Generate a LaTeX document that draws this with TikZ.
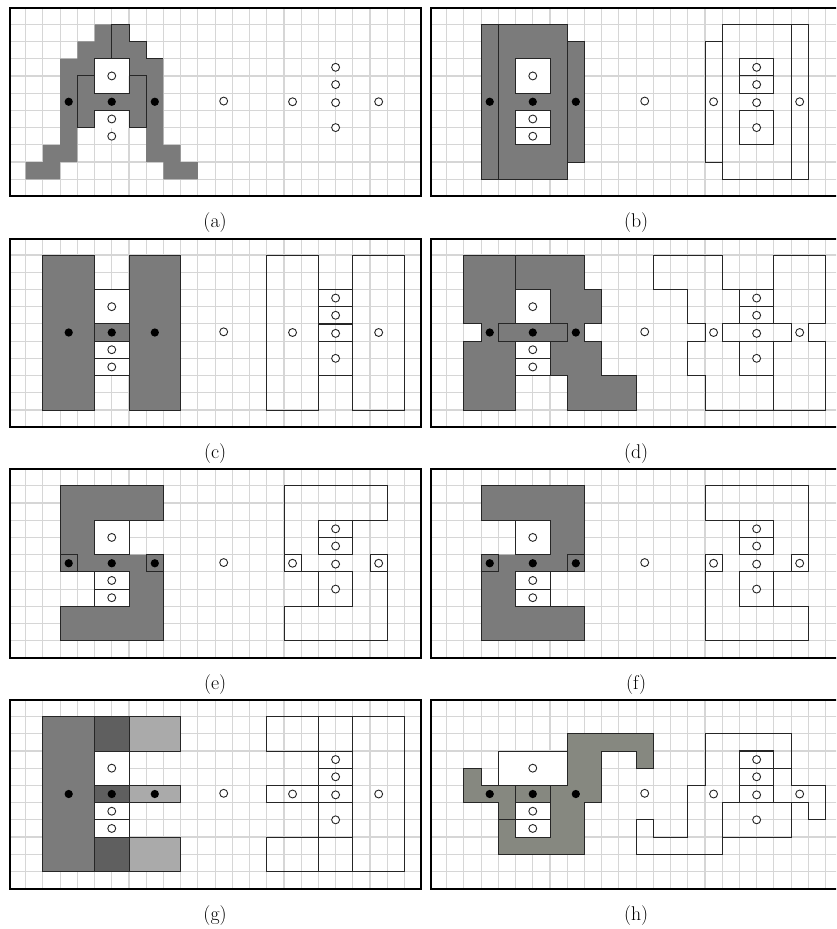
\documentclass[tikz,border=0pt]{standalone}
\usepackage{tikz}

\definecolor{cellgray}{HTML}{7B7B7B}
\definecolor{cellolive}{HTML}{868880}
\definecolor{celldark}{HTML}{5F5F5F}
\definecolor{celllight}{HTML}{AAAAAA}

\tikzset{
	gridline/.style={line width=0.95pt, gray!32},
	frameline/.style={line width=1.6pt, black},
	edgeline/.style={line width=0.75pt, black!85},
	graycell/.style={edgeline, fill=cellgray},
	whitecell/.style={edgeline, fill=white},
	captionlabel/.style={font=\fontsize{16.4}{18}\selectfont, inner sep=0pt},
}

% grid of one panel, drawn under the shapes
\newcommand{\panelgrid}{
	\foreach \i in {0,...,22} {
		\draw[gridline] (\i,-0.95) -- (\i,9.99);
	}
	\foreach \j in {0,...,9} {
		\draw[gridline] (-0.91,\j) -- (22.95,\j);
	}
}
% points and frame, drawn over the shapes
\newcommand{\panelpoints}{
	\foreach \x in {2.5,5,7.5} {
		\fill (\x,4.5) circle (0.24);
	}
	\foreach \x/\y in {5/3,5/5.5,5/6.5,11.5/4.46,15.5/4.5,18/2.5,18/3.5,18/4.55,18/6,20.5/4.5} {
		\draw[edgeline, fill=white] (\x,\y) circle (0.23);
	}
	\draw[frameline] (-0.91,-0.95) rectangle (22.95,9.99);
}

\begin{document}
\begin{tikzpicture}[x=0.5cm, y=-0.5cm]
	\clip (-1.49,-1.41) rectangle (47.06,52.54);

	% (a)
	\begin{scope}
		\panelgrid
		\fill[cellgray] (4,0) -- (6,0) -- (6,1) -- (7,1) -- (7,2) -- (8,2) -- (8,7) -- (9,7) -- (9,8) -- (10,8) -- (10,9) -- (8,9) -- (8,8) -- (7,8) -- (7,6) -- (3,6) -- (3,8) -- (2,8) -- (2,9) -- (0,9) -- (0,8) -- (1,8) -- (1,7) -- (2,7) -- (2,2) -- (3,2) -- (3,1) -- (4,1) -- cycle;
		\fill[white] (4,5) rectangle (6,6);
		\draw[whitecell] (4,2) rectangle (6,4);
		\draw[edgeline] (5,2) -- (5,0) -- (6,0) -- (6,1) -- (7,1) -- (7,2) -- (8,2);
		\draw[graycell] (3,3) -- (4,3) -- (4,4) -- (6,4) -- (6,3) -- (7,3) -- (7,6) -- (6,6) -- (6,5) -- (4,5) -- (4,6) -- (3,6) -- cycle;
		\panelpoints
		\node[captionlabel] (capa) at (11,11.53) {(a)};
	\end{scope}

	% (b)
	\begin{scope}[shift={(24.45,0)}]
		\panelgrid
		\draw[graycell] (2,0) rectangle (3,9);
		\draw[graycell] (3,0) rectangle (7,9);
		\draw[graycell] (7,1) rectangle (8,8);
		\draw[whitecell] (4,2) rectangle (6,4);
		\draw[whitecell] (4,5) rectangle (6,6);
		\draw[whitecell] (4,6) rectangle (6,7);
		\draw[edgeline] (15,1) rectangle (16,8);
		\draw[edgeline] (16,0) rectangle (20,9);
		\draw[edgeline] (20,0) rectangle (21,9);
		\draw[edgeline] (17,2) rectangle (19,3);
		\draw[edgeline] (17,3) rectangle (19,4);
		\draw[edgeline] (17,5) rectangle (19,7);
		\panelpoints
		\node[captionlabel] (capb) at (11,11.53) {(b)};
	\end{scope}

	% (c)
	\begin{scope}[shift={(0,13.4)}]
		\panelgrid
		\draw[graycell] (1,0) rectangle (4,9);
		\draw[graycell] (6,0) rectangle (9,9);
		\draw[whitecell] (4,2) rectangle (6,4);
		\draw[whitecell] (4,5) rectangle (6,6);
		\draw[whitecell] (4,6) rectangle (6,7);
		\draw[graycell] (4,4) rectangle (6,5);
		\draw[edgeline] (14,0) rectangle (17,9);
		\draw[edgeline] (19,0) rectangle (22,9);
		\draw[edgeline] (17,2) rectangle (19,3);
		\draw[edgeline] (17,3) rectangle (19,4);
		\draw[edgeline] (17,5) rectangle (19,7);
		\draw[edgeline, line width=1pt] (17,4) rectangle (19,5);
		\panelpoints
		\node[captionlabel] (capc) at (11,11.53) {(c)};
	\end{scope}

	% (d)
	\begin{scope}[shift={(24.45,13.4)}]
		\panelgrid
		\draw[graycell] (1,0) -- (8,0) -- (8,2) -- (9,2) -- (9,4) -- (8,4) -- (8,5) -- (9,5) -- (9,7) -- (11,7) -- (11,9) -- (7,9) -- (7,7) -- (4,7) -- (4,9) -- (1,9) -- (1,5) -- (2,5) -- (2,4) -- (1,4) -- cycle;
		\draw[edgeline] (4,0) -- (4,2);
		\draw[whitecell] (4,2) rectangle (6,4);
		\draw[whitecell] (4,5) rectangle (6,6);
		\draw[whitecell] (4,6) rectangle (6,7);
		\draw[graycell] (3,4) rectangle (7,5);
		\draw[edgeline] (12,0) -- (16,0) -- (16,2) -- (17,2) -- (19,2) -- (19,0) -- (22,0) -- (22,4) -- (21,4) -- (21,5) -- (22,5) -- (22,9) -- (15,9) -- (15,7) -- (14,7) -- (14,5) -- (15,5) -- (15,4) -- (14,4) -- (14,2) -- (12,2) -- cycle;
		\draw[edgeline] (19,2) -- (19,4);
		\draw[edgeline] (19,5) -- (19,9);
		\draw[edgeline] (17,2) rectangle (19,3);
		\draw[edgeline] (17,3) rectangle (19,4);
		\draw[edgeline] (17,5) rectangle (19,7);
		\draw[edgeline] (16,4) rectangle (20,5);
		\panelpoints
		\node[captionlabel] (capd) at (11,11.53) {(d)};
	\end{scope}

	% (e)
	\begin{scope}[shift={(0,26.8)}]
		\panelgrid
		\draw[graycell] (7,4) -- (8,4) -- (8,9) -- (2,9) -- (2,7) -- (4,7) -- (4,5) -- (2,5) -- (2,0) -- (8,0) -- (8,2) -- (6,2) -- (6,4);
		\draw[whitecell] (4,2) rectangle (6,4);
		\draw[whitecell] (4,5) rectangle (6,6);
		\draw[whitecell] (4,6) rectangle (6,7);
		\draw[graycell] (2,4) rectangle (3,5);
		\draw[graycell] (7,4) rectangle (8,5);
		\draw[edgeline] (20,4) -- (21,4) -- (21,9) -- (15,9) -- (15,7) -- (17,7) -- (17,5) -- (15,5) -- (15,0) -- (21,0) -- (21,2) -- (19,2);
		\draw[edgeline] (17,2) rectangle (19,3);
		\draw[edgeline] (17,3) rectangle (19,4);
		\draw[edgeline] (17,5) rectangle (19,7);
		\draw[edgeline] (15,4) rectangle (16,5);
		\draw[edgeline] (20,4) rectangle (21,5);
		\panelpoints
		\node[captionlabel] (cape) at (11,11.53) {(e)};
	\end{scope}

	% (f)
	\begin{scope}[shift={(24.45,26.8)}]
		\panelgrid
		\draw[graycell] (3,4) -- (2,4) -- (2,9) -- (8,9) -- (8,7) -- (6,7) -- (6,5) -- (8,5) -- (8,0) -- (2,0) -- (2,2) -- (4,2) -- (4,4);
		\draw[whitecell] (4,2) rectangle (6,4);
		\draw[whitecell] (4,5) rectangle (6,6);
		\draw[whitecell] (4,6) rectangle (6,7);
		\draw[graycell] (2,4) rectangle (3,5);
		\draw[graycell] (7,4) rectangle (8,5);
		\draw[edgeline] (16,4) -- (15,4) -- (15,9) -- (21,9) -- (21,7) -- (19,7) -- (19,5) -- (21,5) -- (21,0) -- (15,0) -- (15,2) -- (17,2);
		\draw[edgeline] (17,2) rectangle (19,3);
		\draw[edgeline] (17,3) rectangle (19,4);
		\draw[edgeline] (17,5) rectangle (19,7);
		\draw[edgeline] (15,4) rectangle (16,5);
		\draw[edgeline] (20,4) rectangle (21,5);
		\panelpoints
		\node[captionlabel] (capf) at (11,11.53) {(f)};
	\end{scope}

	% (g)
	\begin{scope}[shift={(0,40.2)}]
		\panelgrid
		\draw[graycell] (1,0) rectangle (4,9);
		\foreach \ya/\yb in {0/2,4/5,7/9} {
			\draw[edgeline, fill=celldark] (4,\ya) rectangle (6,\yb);
			\draw[edgeline, fill=celllight] (6,\ya) rectangle (9,\yb);
		}
		\draw[whitecell] (4,2) rectangle (6,4);
		\draw[whitecell] (4,5) rectangle (6,6);
		\draw[whitecell] (4,6) rectangle (6,7);
		\foreach \ya/\yb in {0/2,4/5,7/9} {
			\draw[edgeline] (14,\ya) rectangle (17,\yb);
			\draw[edgeline] (17,\ya) rectangle (19,\yb);
		}
		\draw[edgeline] (19,0) rectangle (22,9);
		\draw[edgeline] (17,2) rectangle (19,3);
		\draw[edgeline] (17,3) rectangle (19,4);
		\draw[edgeline] (17,5) rectangle (19,7);
		\panelpoints
		\node[captionlabel] (capg) at (11,11.53) {(g)};
	\end{scope}

	% (h)
	\begin{scope}[shift={(24.45,40.2)}]
		\panelgrid
		\draw[edgeline, fill=cellolive] (7,1) -- (12,1) -- (12,3) -- (11,3) -- (11,2) -- (9,2) -- (9,5) -- (8,5) -- (8,8) -- (3,8) -- (3,5) -- (1,5) -- (1,3) -- (2,3) -- (2,4) -- (7,4) -- cycle;
		\draw[whitecell] (3,2) rectangle (7,4);
		\draw[edgeline, fill=cellolive] (4,4) rectangle (6,5);
		\draw[whitecell] (4,5) rectangle (6,6);
		\draw[whitecell] (4,6) rectangle (6,7);
		\draw[edgeline] (3,6) -- (4,6);
		\draw[edgeline] (15,1) -- (20,1) -- (20,4) -- (22,4) -- (22,6) -- (21,6) -- (21,5) -- (20,5) -- (20,7) -- (16,7) -- (16,8) -- (11,8) -- (11,6) -- (12,6) -- (12,7) -- (14,7) -- (14,4) -- (15,4) -- cycle;
		\draw[edgeline] (16,5) rectangle (20,7);
		\draw[edgeline, line width=1pt] (17,2) rectangle (19,3);
		\draw[edgeline, line width=1pt] (17,3) rectangle (19,4);
		\draw[edgeline] (17,4) rectangle (19,5);
		\draw[edgeline] (19,3) -- (20,3);
		\panelpoints
		\node[captionlabel] (caph) at (11,11.53) {(h)};
	\end{scope}
\end{tikzpicture}
\end{document}
